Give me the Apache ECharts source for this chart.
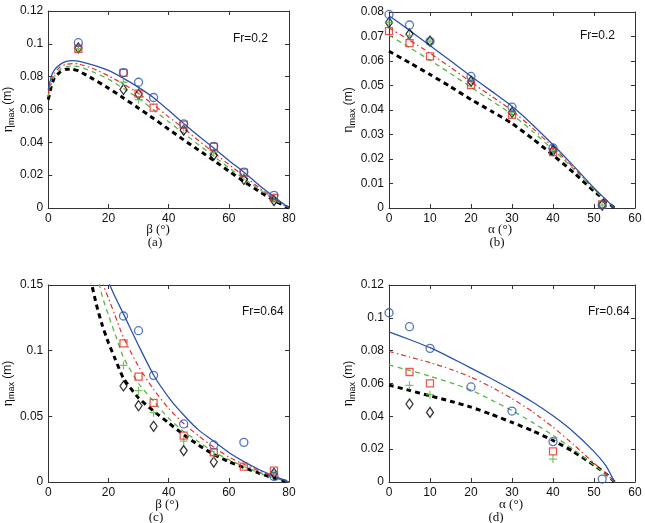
<!DOCTYPE html>
<html>
<head>
<meta charset="utf-8">
<script src="https://cdn.jsdelivr.net/npm/echarts@6/dist/echarts.min.js"></script>
<style>
  html, body { margin: 0; background: #fff; }
  #chart { width: 645px; height: 523px; }
</style>
</head>
<body>
<div id="chart"></div>
<script>
// (a) Fr=0.2, eta_max vs beta
const aBeta  = [0, 1, 2, 4, 6, 8, 10, 15, 20, 25, 30, 35, 40, 45, 50, 55, 60, 65, 70, 75, 80];
const aBlue  = [0.072, 0.080, 0.084, 0.0875, 0.0893, 0.0898, 0.0895, 0.087, 0.0838, 0.079, 0.0735, 0.0672, 0.0595, 0.0515, 0.0438, 0.0365, 0.029, 0.0218, 0.014, 0.0068, 0];
const aRed   = [0.070, 0.078, 0.082, 0.086, 0.0875, 0.088, 0.0878, 0.0848, 0.0805, 0.0755, 0.0698, 0.0628, 0.0555, 0.0485, 0.041, 0.0338, 0.0265, 0.0195, 0.0125, 0.0058, 0];
const aGreen = [0.068, 0.076, 0.080, 0.0845, 0.086, 0.0865, 0.0862, 0.0828, 0.0785, 0.0728, 0.0668, 0.0598, 0.0525, 0.0455, 0.0385, 0.0315, 0.0245, 0.018, 0.0115, 0.0052, 0];
const aBlack = [0.066, 0.074, 0.079, 0.083, 0.0845, 0.0845, 0.0835, 0.0785, 0.073, 0.067, 0.0608, 0.0545, 0.048, 0.0415, 0.0352, 0.029, 0.0225, 0.0162, 0.0102, 0.0047, 0];
const aObsX     = [10, 25, 30, 35, 45, 55, 65, 75];
const aObsBlue  = [0.1007, 0.0825, 0.0766, 0.0673, 0.0512, 0.0375, 0.0219, 0.0077];
const aObsRed   = [0.097, 0.0823, 0.0697, 0.0612, 0.0508, 0.0373, 0.0215, 0.0062];
const aObsGreen = [0.097, 0.0766, 0.066, null, 0.049, 0.034, 0.019, 0.005];
const aObsBlack = [0.0975, 0.0722, 0.0693, null, 0.0474, 0.0322, 0.0174, 0.0045];

// (b) Fr=0.2, eta_max vs alpha
const bAlpha = [0, 5, 10, 15, 20, 25, 30, 35, 40, 45, 50, 55];
const bBlue  = [0.0785, 0.0725, 0.0663, 0.0601, 0.0538, 0.0477, 0.0415, 0.034, 0.0258, 0.0172, 0.0082, 0];
const bRed   = [0.0735, 0.0685, 0.0632, 0.0574, 0.0514, 0.0456, 0.0398, 0.0326, 0.0248, 0.0165, 0.0078, 0];
const bGreen = [0.0705, 0.0655, 0.0603, 0.0549, 0.0493, 0.0438, 0.0382, 0.0313, 0.0238, 0.016, 0.0075, 0];
const bBlack = [0.064, 0.0593, 0.0545, 0.0495, 0.0443, 0.0395, 0.0345, 0.0283, 0.0216, 0.0145, 0.0069, 0];
const bObsX     = [0, 5, 10, 20, 30, 40, 52];
const bObsBlue  = [0.079, 0.0747, 0.068, 0.0537, 0.0412, 0.0245, 0.0012];
const bObsRed   = [0.0722, 0.0673, 0.0619, 0.0502, 0.038, 0.0228, 0.0015];
const bObsGreen = [0.0757, 0.0705, 0.0681, 0.0517, 0.039, 0.0234, 0.0012];
const bObsBlack = [0.0757, 0.071, 0.0681, 0.0517, 0.039, 0.0234, 0.0012];

// (c) Fr=0.64, eta_max vs beta
const cBeta  = [14, 16, 18, 20, 22, 25, 30, 35, 40, 45, 50, 55, 60, 65, 70, 75, 80];
const cBlue  = [0.23, 0.2, 0.175, 0.153, 0.142, 0.128, 0.104, 0.0815, 0.0645, 0.051, 0.0395, 0.031, 0.0225, 0.0155, 0.0095, 0.0045, 0];
const cRed   = [0.2, 0.175, 0.152, 0.14, 0.128, 0.11, 0.088, 0.0705, 0.056, 0.0445, 0.035, 0.0265, 0.019, 0.0135, 0.0085, 0.004, 0];
const cGreen = [0.185, 0.16, 0.141, 0.127, 0.114, 0.095, 0.075, 0.0615, 0.0485, 0.0385, 0.0305, 0.023, 0.017, 0.0118, 0.007, 0.0033, 0];
const cBlack = [0.155, 0.135, 0.119, 0.106, 0.095, 0.079, 0.064, 0.054, 0.045, 0.036, 0.028, 0.021, 0.0155, 0.011, 0.0068, 0.003, 0];
const cObsX     = [25, 30, 35, 45, 55, 65, 75];
const cObsBlue  = [0.1264, 0.1152, 0.0812, 0.0442, 0.0282, 0.0302, 0.0043];
const cObsRed   = [0.1056, 0.0802, 0.0602, 0.0353, 0.0226, 0.0117, 0.0086];
const cObsGreen = [0.0888, 0.0695, 0.0528, 0.0312, 0.0203, null, 0.007];
const cObsBlack = [0.0731, 0.0581, 0.0424, 0.0239, 0.0152, null, 0.0066];

// (d) Fr=0.64, eta_max vs alpha
const dAlpha = [0, 5, 10, 15, 20, 25, 30, 35, 40, 45, 50, 53, 55];
const dBlue  = [0.0915, 0.0868, 0.0818, 0.0758, 0.0694, 0.0629, 0.0561, 0.0487, 0.0403, 0.0305, 0.0185, 0.0095, 0];
const dRed   = [0.0795, 0.0762, 0.0727, 0.0687, 0.0639, 0.0578, 0.0508, 0.0428, 0.0334, 0.0228, 0.0115, 0.005, 0];
const dGreen = [0.0713, 0.068, 0.0645, 0.0605, 0.056, 0.0499, 0.0435, 0.0363, 0.0284, 0.0198, 0.0103, 0.0045, 0];
const dBlack = [0.059, 0.0558, 0.0525, 0.0492, 0.0456, 0.0412, 0.0363, 0.0312, 0.0253, 0.0185, 0.0103, 0.0048, 0];
const dObsX     = [0, 5, 10, 20, 30, 40, 52];
const dObsBlue  = [0.1031, 0.0946, 0.0814, 0.0579, 0.0432, 0.0246, 0.0018];
const dObsRed   = [null, 0.067, 0.0601, null, null, 0.0187, null];
const dObsGreen = [null, 0.0589, 0.0532, null, null, 0.014, null];
const dObsBlack = [null, 0.0475, 0.0424, null, null, null, null];

const xTitles = ['β (°)', 'α (°)', 'β (°)', 'α (°)'];
const panelTags = ['(a)', '(b)', '(c)', '(d)'];
const frLabels = ['Fr=0.2', 'Fr=0.2', 'Fr=0.64', 'Fr=0.64'];

const BLUE = '#2c52b0', RED = '#e2302a', GREEN = '#5db445', BLACK = '#000';
const sans = 'Liberation Sans, Arial, sans-serif';
const serif = 'Liberation Serif, Times New Roman, serif';
const PLUS = 'path://M0,4.2 L10,4.2 L10,5.8 L0,5.8 Z M4.2,0 L5.8,0 L5.8,10 L4.2,10 Z';

const grids = [
  { left: 44, top: 11, width: 245, height: 197 },
  { left: 389, top: 12, width: 246, height: 196 },
  { left: 44, top: 285, width: 245, height: 197 },
  { left: 389, top: 285, width: 246, height: 197 }
];
const xRange = [[0, 80, 20], [0, 60, 10], [0, 80, 20], [0, 60, 10]];
const yRange = [[0, 0.12, 0.02], [0, 0.08, 0.01], [0, 0.15, 0.05], [0, 0.12, 0.02]];

function pairs(xs, ys) {
  const out = [];
  xs.forEach((x, i) => { if (ys[i] != null) out.push([x, ys[i]]); });
  return out;
}

const xAxes = [], yAxes = [];
grids.forEach((g, k) => {
  const base = {
    gridIndex: k, type: 'value', splitLine: { show: false },
    axisLine: { show: true, onZero: false, lineStyle: { color: '#333', width: 1 } },
    axisTick: { show: true, inside: true, length: 4, lineStyle: { color: '#333' } }
  };
  xAxes.push(Object.assign({}, base, {
    position: 'bottom', min: xRange[k][0], max: xRange[k][1], interval: xRange[k][2],
    axisLabel: { color: '#111', fontFamily: sans, fontSize: 12, margin: 5 }
  }));
  xAxes.push(Object.assign({}, base, {
    position: 'top', min: xRange[k][0], max: xRange[k][1], interval: xRange[k][2],
    axisLabel: { show: false }
  }));
  yAxes.push(Object.assign({}, base, {
    position: 'left', min: yRange[k][0], max: yRange[k][1], interval: yRange[k][2],
    axisLabel: { color: '#111', fontFamily: sans, fontSize: 12, margin: 5 },
    name: '{e|η}{s|max}{u| (m)}', nameLocation: 'middle', nameGap: 28,
    nameTextStyle: {
      rich: {
        e: { fontFamily: serif, fontSize: 14, color: '#111' },
        s: { fontFamily: sans, fontSize: 9, color: '#111', padding: [7, 0, 0, 0] },
        u: { fontFamily: sans, fontSize: 12, color: '#111' }
      }
    }
  }));
  yAxes.push(Object.assign({}, base, {
    position: 'right', min: yRange[k][0], max: yRange[k][1], interval: yRange[k][2],
    axisLabel: { show: false }
  }));
});

const panels = [
  [aBeta, aBlue, aRed, aGreen, aBlack, aObsX, aObsBlue, aObsRed, aObsGreen, aObsBlack],
  [bAlpha, bBlue, bRed, bGreen, bBlack, bObsX, bObsBlue, bObsRed, bObsGreen, bObsBlack],
  [cBeta, cBlue, cRed, cGreen, cBlack, cObsX, cObsBlue, cObsRed, cObsGreen, cObsBlack],
  [dAlpha, dBlue, dRed, dGreen, dBlack, dObsX, dObsBlue, dObsRed, dObsGreen, dObsBlack]
];

const series = [];
panels.forEach((p, k) => {
  const ax = { xAxisIndex: 2 * k, yAxisIndex: 2 * k };
  const line = (ys, color, width, type) => Object.assign({
    type: 'line', data: pairs(p[0], ys), showSymbol: false, smooth: 0.2, clip: true,
    lineStyle: { color, width, type }, silent: true, z: 2
  }, ax);
  series.push(line(p[4], BLACK, 3, [5, 4]));
  series.push(line(p[3], GREEN, 1.3, [5, 4]));
  series.push(line(p[2], RED, 1.2, [5, 3, 1.5, 3]));
  series.push(line(p[1], BLUE, 1.3, 'solid'));
  const dots = (ys, symbol, size, style) => Object.assign({
    type: 'scatter', data: pairs(p[5], ys), symbol, symbolSize: size, itemStyle: style, z: 3
  }, ax);
  series.push(dots(p[9], 'diamond', [7, 10], { color: 'rgba(0,0,0,0)', borderColor: BLACK, borderWidth: 1.3 }));
  series.push(dots(p[8], PLUS, 8, { color: GREEN }));
  series.push(dots(p[7], 'rect', 7, { color: 'rgba(0,0,0,0)', borderColor: RED, borderWidth: 1.3 }));
  series.push(dots(p[6], 'circle', 8, { color: 'rgba(0,0,0,0)', borderColor: BLUE, borderWidth: 1.3 }));
});

const titlePos = [[158, 230, 155, 243], [500, 230, 497, 243], [167, 505, 156, 518], [511, 505, 496, 518]];
const frPos = [[233, 33], [580, 30], [242, 306], [588, 306]];
const graphic = [];
titlePos.forEach((t, k) => {
  graphic.push({ type: 'text', x: t[0], y: t[1], style: { text: xTitles[k], font: '13px ' + serif, fill: '#111', align: 'center', verticalAlign: 'middle' } });
  graphic.push({ type: 'text', x: t[2], y: t[3], style: { text: panelTags[k], font: '13px ' + serif, fill: '#111', align: 'center', verticalAlign: 'middle' } });
  graphic.push({ type: 'text', x: frPos[k][0], y: frPos[k][1], style: { text: frLabels[k], font: '12px ' + sans, fill: '#111' } });
});

const chart = echarts.init(document.getElementById('chart'));
chart.setOption({
  animation: false,
  backgroundColor: '#fff',
  grid: grids,
  xAxis: xAxes,
  yAxis: yAxes,
  series: series,
  graphic: graphic
});
</script>
</body>
</html>
